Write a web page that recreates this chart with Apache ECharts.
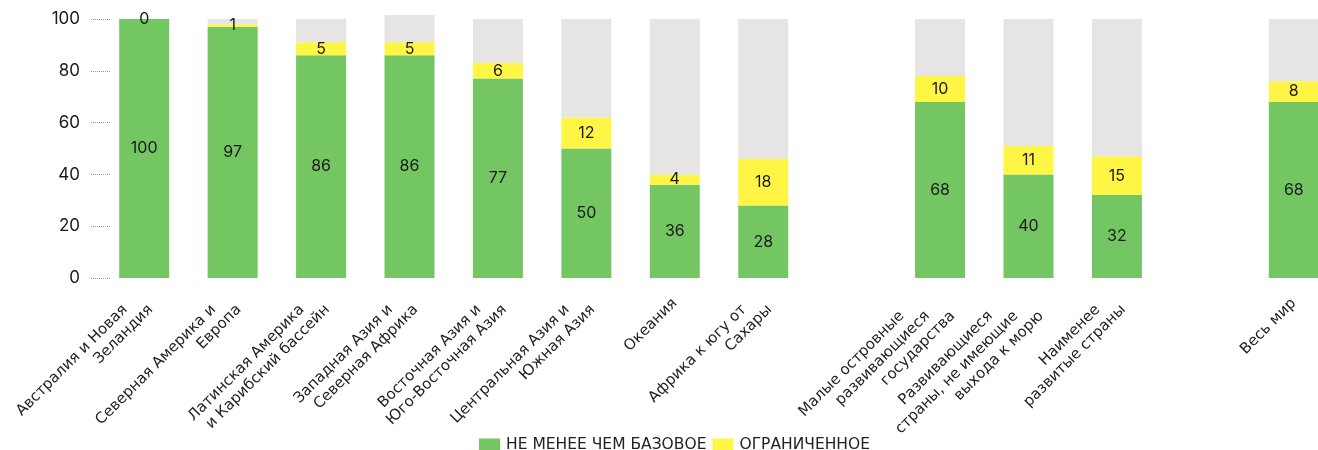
<!DOCTYPE html>
<html>
<head>
<meta charset="utf-8">
<script src="https://cdn.jsdelivr.net/npm/echarts@6/dist/echarts.min.js"></script>
<style>html,body{margin:0;padding:0;background:#fff}#c{width:1318px;height:450px}</style>
</head>
<body>
<div id="c"></div>
<script>
const categories = [
  'Австралия и Новая\nЗеландия',
  'Северная Америка и\nЕвропа',
  'Латинская Америка\nи Карибский бассейн',
  'Западная Азия и\nСеверная Африка',
  'Восточная Азия и\nЮго-Восточная Азия',
  'Центральная Азия и\nЮжная Азия',
  'Океания',
  'Африка к югу от\nСахары',
  '',
  'Малые островные\nразвивающиеся\nгосударства',
  'Развивающиеся\nстраны, не имеющие\nвыхода к морю',
  'Наименее\nразвитые страны',
  '',
  'Весь мир'
];
const basic   = [100, 97, 86, 86, 77, 50, 36, 28, '-', 68, 40, 32, '-', 68];
const limited = [0, 1, 5, 5, 6, 12, 4, 18, '-', 10, 11, 15, '-', 8];
const rest    = [0, 2, 9, 10.5, 17, 38, 60, 54, '-', 22, 49, 53, '-', 24];
const yTicks = [0, 20, 40, 60, 80, 100];
const seriesNames = ['НЕ МЕНЕЕ ЧЕМ БАЗОВОЕ', 'ОГРАНИЧЕННОЕ'];

const LH = 18;
const catFont = {fontSize: 15, fontFamily: 'DejaVu Sans', color: '#222', lineHeight: LH};
const rich = {};
for (let p = 0; p < 3; p++) {
  rich['p' + p] = Object.assign({padding: [0, LH * p, 0, 0]}, catFont);
}
function catFormatter(v) {
  if (!v) return '';
  const lines = v.split('\n');
  const L = lines.length;
  return lines.map((t, k) => '{p' + (L - 1 - k) + '|' + t + '}').join('\n');
}

const chart = echarts.init(document.getElementById('c'), null, {renderer: 'canvas'});
const labelStyle = {show: true, position: 'inside', color: '#1a1a1a', fontSize: 16, fontFamily: 'Inter'};
chart.setOption({
  animation: false,
  grid: {left: 100, top: 19, bottom: 172, right: -20, containLabel: false, outerBoundsMode: 'none'},
  legend: {
    data: seriesNames,
    top: 432,
    left: 474,
    itemWidth: 21,
    itemHeight: 13,
    itemGap: 6,
    icon: 'rect',
    textStyle: {fontSize: 15.5, color: '#222', fontFamily: 'DejaVu Sans', padding: [0, 0, 0, 1]}
  },
  xAxis: {
    type: 'category',
    data: categories,
    axisLine: {show: false},
    axisTick: {show: false},
    axisLabel: {
      interval: 0, rotate: 45, margin: 23,
      formatter: catFormatter, rich: rich,
      fontSize: 15, fontFamily: 'DejaVu Sans', color: '#222', lineHeight: LH
    }
  },
  yAxis: {
    type: 'value',
    min: 0, max: 100, interval: 20,
    offset: -10,
    axisLine: {show: false},
    axisTick: {show: true, length: 20, lineStyle: {type: 'dotted', color: '#999', width: 1}},
    splitLine: {show: false},
    axisLabel: {
      fontSize: 17, color: '#1a1a1a', fontFamily: 'Inter', margin: 30,
      formatter: v => yTicks.includes(v) ? String(v) : ''
    }
  },
  series: [
    {
      name: seriesNames[0], type: 'bar', stack: 'a', barWidth: 50,
      data: basic, itemStyle: {color: '#74c662'}, label: labelStyle
    },
    {
      name: seriesNames[1], type: 'bar', stack: 'a', barWidth: 50,
      data: limited, itemStyle: {color: '#fef545'}, label: labelStyle
    },
    {
      name: 'rest', type: 'bar', stack: 'a', barWidth: 50, clip: false,
      data: rest, itemStyle: {color: '#e6e5e3'}, label: {show: false}
    }
  ]
});
</script>
</body>
</html>
